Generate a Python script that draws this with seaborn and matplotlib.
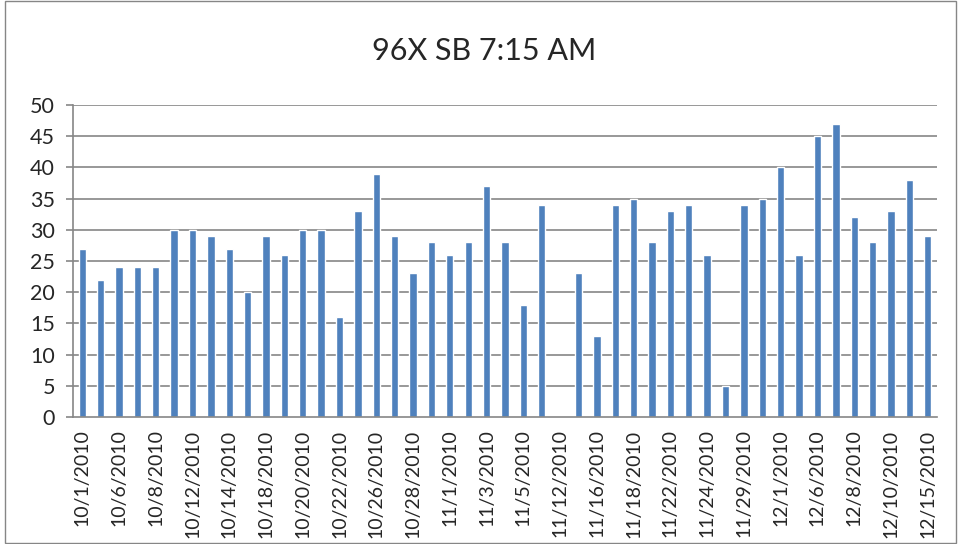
import numpy as np
import pandas as pd
import seaborn as sns
import matplotlib.pyplot as plt
from matplotlib.patches import Rectangle

# Daily counts, 96X southbound 7:15 AM trip
dates = ['10/1/2010', '10/5/2010', '10/6/2010', '10/7/2010', '10/8/2010', '10/11/2010',
         '10/12/2010', '10/13/2010', '10/14/2010', '10/15/2010', '10/18/2010', '10/19/2010',
         '10/20/2010', '10/21/2010', '10/22/2010', '10/25/2010', '10/26/2010', '10/27/2010',
         '10/28/2010', '10/29/2010', '11/1/2010', '11/2/2010', '11/3/2010', '11/4/2010',
         '11/5/2010', '11/8/2010', '11/12/2010', '11/15/2010', '11/16/2010', '11/17/2010',
         '11/18/2010', '11/19/2010', '11/22/2010', '11/23/2010', '11/24/2010', '11/26/2010',
         '11/29/2010', '11/30/2010', '12/1/2010', '12/2/2010', '12/6/2010', '12/7/2010',
         '12/8/2010', '12/9/2010', '12/10/2010', '12/13/2010', '12/15/2010']
riders = [27, 22, 24, 24, 24, 30, 30, 29, 27, 20, 29, 26, 30, 30, 16, 33, 39, 29, 23, 28,
          26, 28, 37, 28, 18, 34, 0, 23, 13, 34, 35, 28, 33, 34, 26, 5, 34, 35, 40, 26,
          45, 47, 32, 28, 33, 38, 29]
title = '96X SB 7:15 AM'

df = pd.DataFrame({'date': dates, 'riders': riders})

sns.set_style('white')
plt.rcParams['font.family'] = ['Lato', 'DejaVu Sans']

fig = plt.figure(figsize=(9.58, 5.44), dpi=100)
ax = fig.add_axes([0.0762, 0.2335, 0.9018, 0.5735])
ax.set_axisbelow(True)

grid_c = '#868686'
for v in range(5, 55, 5):
    ax.axhline(v, color=grid_c, lw=1.2, zorder=0.5)

sns.barplot(data=df, x='date', y='riders', order=dates, color='#4F81BD',
            width=0.4, saturation=1, ax=ax, zorder=3)

n = len(dates)
ax.set_xlim(-0.5, n - 0.5)
ax.set_ylim(0, 50)
ax.set_yticks(range(0, 55, 5))
ax.set_xticks(range(0, n, 2))
ax.set_xticklabels(dates[::2], rotation=90, fontsize=14)
ax.set_xticks(np.arange(-0.5, n, 1), minor=True)
ax.tick_params(axis='x', which='major', length=0, pad=9)
ax.tick_params(axis='x', which='minor', length=5, color=grid_c, width=1.2)
ax.tick_params(axis='y', length=5, color=grid_c, width=1.2, labelsize=15.5, pad=8, left=True)
ax.set_xlabel('')
ax.set_ylabel('')

for side in ['top', 'right']:
    ax.spines[side].set_visible(False)
for side in ['left', 'bottom']:
    ax.spines[side].set_color(grid_c)
    ax.spines[side].set_linewidth(1.2)
    ax.spines[side].set_zorder(4)

fig.text(0.505, 0.906, title, ha='center', va='center', fontsize=22)
fig.patches.append(Rectangle((0.005, 0.001), 0.993, 0.997, transform=fig.transFigure,
                             fill=False, edgecolor='#868686', lw=1))

fig.savefig('out.png', dpi=100)
